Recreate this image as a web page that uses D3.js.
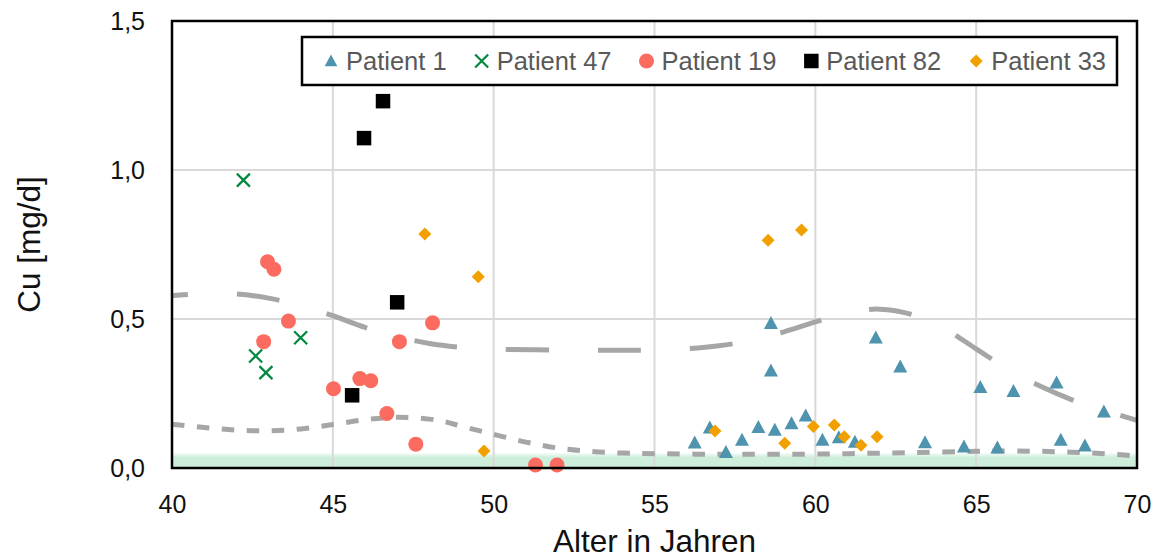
<!DOCTYPE html>
<html>
<head>
<meta charset="utf-8">
<script src="https://cdn.jsdelivr.net/npm/d3@7"></script>
<style>
  html, body { margin: 0; padding: 0; background: #fff; }
  svg { display: block; font-family: "Liberation Sans", Arial, sans-serif; }
</style>
</head>
<body>
<svg id="chart" width="1160" height="560"></svg>
<script>
// Series: [age in years, Cu in mg/d]
const patient1 = [
  [58.62, 0.486], [58.62, 0.327], [61.88, 0.437], [62.64, 0.340], [65.13, 0.271],
  [66.16, 0.258], [67.50, 0.286], [68.97, 0.189], [56.25, 0.085], [56.72, 0.135],
  [57.22, 0.053], [57.72, 0.094], [58.23, 0.137], [58.74, 0.128], [59.26, 0.150],
  [59.70, 0.176], [60.22, 0.094], [60.73, 0.103], [61.23, 0.088], [63.41, 0.086],
  [64.62, 0.072], [65.66, 0.068], [67.63, 0.094], [68.38, 0.075]
];
const patient47 = [[42.22, 0.966], [42.60, 0.376], [42.92, 0.320], [44.00, 0.437]];
const patient19 = [
  [42.97, 0.692], [43.17, 0.667], [43.62, 0.493], [42.85, 0.424], [45.02, 0.266],
  [45.84, 0.300], [46.18, 0.293], [47.07, 0.424], [48.10, 0.487], [46.68, 0.183],
  [47.58, 0.080], [51.30, 0.010], [51.97, 0.010]
];
const patient82 = [[46.56, 1.231], [45.97, 1.107], [47.00, 0.556], [45.60, 0.244]];
const patient33 = [
  [47.86, 0.785], [49.52, 0.642], [58.53, 0.764], [59.57, 0.799], [49.70, 0.057],
  [56.88, 0.124], [59.05, 0.083], [59.94, 0.139], [60.59, 0.144], [60.90, 0.105],
  [61.42, 0.076], [61.92, 0.105]
];

// Upper and lower reference curves
const upperCurve = [
  [40, 0.578], [41, 0.585], [42, 0.584], [43, 0.570], [44, 0.545], [45, 0.511],
  [46, 0.472], [47, 0.441], [48, 0.418], [49, 0.405], [50, 0.399], [52, 0.396],
  [54, 0.395], [55, 0.396], [56, 0.400], [57, 0.410], [58, 0.428], [59, 0.456],
  [60, 0.490], [61, 0.522], [62, 0.533], [63, 0.515], [64, 0.468], [65, 0.400],
  [66, 0.330], [67, 0.274], [68, 0.228], [69, 0.193], [70, 0.160]
];
const lowerCurve = [
  [40, 0.147], [41, 0.136], [42, 0.127], [43, 0.125], [44, 0.131], [45, 0.146],
  [46, 0.162], [47, 0.170], [48, 0.164], [48.5, 0.155], [49, 0.140], [50, 0.113],
  [51, 0.087], [52, 0.067], [53, 0.056], [54, 0.050], [55, 0.048], [57, 0.046],
  [59, 0.046], [61, 0.048], [63, 0.052], [65, 0.056], [66, 0.057], [67, 0.056],
  [68, 0.053], [69, 0.048], [70, 0.040]
];

// Normal range band
const normalBand = [0, 0.05];

const xTicks = [40, 45, 50, 55, 60, 65, 70];
const yTicks = [0, 0.5, 1.0, 1.5];
const seriesNames = ["Patient 1", "Patient 47", "Patient 19", "Patient 82", "Patient 33"];

const svg = d3.select("#chart");
const margin = { left: 172, top: 21, right: 23, bottom: 92 };
const W = 1160, H = 560;
const iw = W - margin.left - margin.right;
const ih = H - margin.top - margin.bottom;

const x = d3.scaleLinear().domain([40, 70]).range([margin.left, margin.left + iw]);
const y = d3.scaleLinear().domain([0, 1.5]).range([margin.top + ih, margin.top]);

const deLocale = d3.formatLocale({ decimal: ",", thousands: ".", grouping: [3], currency: ["", " €"] });
const fmt = deLocale.format(".1f");

// Gradient for the band
const defs = svg.append("defs");
const grad = defs.append("linearGradient").attr("id", "bandGrad")
  .attr("x1", 0).attr("y1", 1).attr("x2", 0).attr("y2", 0);
grad.append("stop").attr("offset", "0%").attr("stop-color", "#cdeedb");
grad.append("stop").attr("offset", "70%").attr("stop-color", "#cdeedb");
grad.append("stop").attr("offset", "100%").attr("stop-color", "#cdeedb").attr("stop-opacity", 0.2);

// Band
svg.append("rect")
  .attr("x", x(40)).attr("width", x(70) - x(40))
  .attr("y", y(normalBand[1])).attr("height", y(normalBand[0]) - y(normalBand[1]))
  .attr("fill", "url(#bandGrad)");

// Grid
const grid = svg.append("g");
grid.selectAll(".vg").data(xTicks.slice(1, -1)).join("line")
  .attr("x1", d => x(d)).attr("x2", d => x(d))
  .attr("y1", y(1.5)).attr("y2", y(0))
  .attr("stroke", "#d9d9d9").attr("stroke-width", 2);
grid.selectAll(".hg").data(yTicks.slice(1, -1)).join("line")
  .attr("x1", x(40)).attr("x2", x(70))
  .attr("y1", d => y(d)).attr("y2", d => y(d))
  .attr("stroke", "#d9d9d9").attr("stroke-width", 2);

// Curves
const line = d3.line().x(d => x(d[0])).y(d => y(d[1])).curve(d3.curveCatmullRom);
svg.append("path").datum(upperCurve).attr("d", line)
  .attr("fill", "none").attr("stroke", "#a6a6a6").attr("stroke-width", 5)
  .attr("stroke-dasharray", "43 49").attr("stroke-dashoffset", 27);
svg.append("path").datum(lowerCurve).attr("d", line)
  .attr("fill", "none").attr("stroke", "#a6a6a6").attr("stroke-width", 5)
  .attr("stroke-dasharray", "12.5 12.5");

// Marker shapes
const colors = ["#4e94ae", "#00883e", "#fb6b5f", "#000000", "#f1a000"];
function drawMarker(g, i, cx, cy, scale) {
  const s = scale || 1;
  if (i === 0) {
    const h = 13 * s, w = 14 * s;
    g.append("path")
      .attr("d", `M${cx},${cy - h * 0.55}L${cx + w / 2},${cy + h * 0.45}L${cx - w / 2},${cy + h * 0.45}Z`)
      .attr("fill", colors[0]);
  } else if (i === 1) {
    const r = 6.5 * s;
    g.append("path")
      .attr("d", `M${cx - r},${cy - r}L${cx + r},${cy + r}M${cx + r},${cy - r}L${cx - r},${cy + r}`)
      .attr("stroke", colors[1]).attr("stroke-width", 2.2).attr("fill", "none");
  } else if (i === 2) {
    g.append("circle").attr("cx", cx).attr("cy", cy).attr("r", 7.5 * s).attr("fill", colors[2]);
  } else if (i === 3) {
    const a = 14.5 * s;
    g.append("rect").attr("x", cx - a / 2).attr("y", cy - a / 2).attr("width", a).attr("height", a)
      .attr("fill", colors[3]);
  } else {
    const r = 6.5 * s;
    g.append("path")
      .attr("d", `M${cx},${cy - r}L${cx + r},${cy}L${cx},${cy + r}L${cx - r},${cy}Z`)
      .attr("fill", colors[4]);
  }
}

const allSeries = [patient1, patient47, patient19, patient82, patient33];
const marks = svg.append("g");
allSeries.forEach((series, i) => {
  const g = marks.append("g");
  series.forEach(d => drawMarker(g, i, x(d[0]), y(d[1])));
});

// Frame
svg.append("rect")
  .attr("x", x(40)).attr("y", y(1.5))
  .attr("width", x(70) - x(40)).attr("height", y(0) - y(1.5))
  .attr("fill", "none").attr("stroke", "#000").attr("stroke-width", 2.5);

// Axes
const xAxis = d3.axisBottom(x).tickValues(xTicks).tickSize(0).tickPadding(27).tickFormat(d3.format("d"));
svg.append("g").attr("transform", `translate(0,${y(0)})`).call(xAxis)
  .call(g => g.select(".domain").remove())
  .selectAll("text").attr("font-size", 25).attr("fill", "#111")
  .attr("font-family", "Liberation Sans, Arial, sans-serif");

const yAxis = d3.axisLeft(y).tickValues(yTicks).tickSize(0).tickPadding(27).tickFormat(fmt);
svg.append("g").attr("transform", `translate(${x(40)},0)`).call(yAxis)
  .call(g => g.select(".domain").remove())
  .selectAll("text").attr("font-size", 25).attr("fill", "#111")
  .attr("font-family", "Liberation Sans, Arial, sans-serif");

// Axis titles
svg.append("text").attr("x", (x(40) + x(70)) / 2).attr("y", 552)
  .attr("text-anchor", "middle").attr("font-size", 31.5).attr("fill", "#111")
  .text("Alter in Jahren");
svg.append("text").attr("transform", `translate(40,${(y(0) + y(1.5)) / 2}) rotate(-90)`)
  .attr("text-anchor", "middle").attr("font-size", 31.5).attr("fill", "#111")
  .text("Cu [mg/d]");

// Legend
const legend = svg.append("g");
legend.append("rect")
  .attr("x", 302).attr("y", 37).attr("width", 815).attr("height", 48)
  .attr("fill", "#fff").attr("stroke", "#000").attr("stroke-width", 2.5);
let cursor = 331;
seriesNames.forEach((name, i) => {
  drawMarker(legend, i, cursor, 61, i === 0 ? 0.9 : 1);
  const t = legend.append("text").attr("x", cursor + 15).attr("y", 61)
    .attr("dominant-baseline", "central").attr("font-size", 25.5).attr("fill", "#595959")
    .text(name);
  cursor = cursor + 15 + t.node().getComputedTextLength() + 35;
});
</script>
</body>
</html>
